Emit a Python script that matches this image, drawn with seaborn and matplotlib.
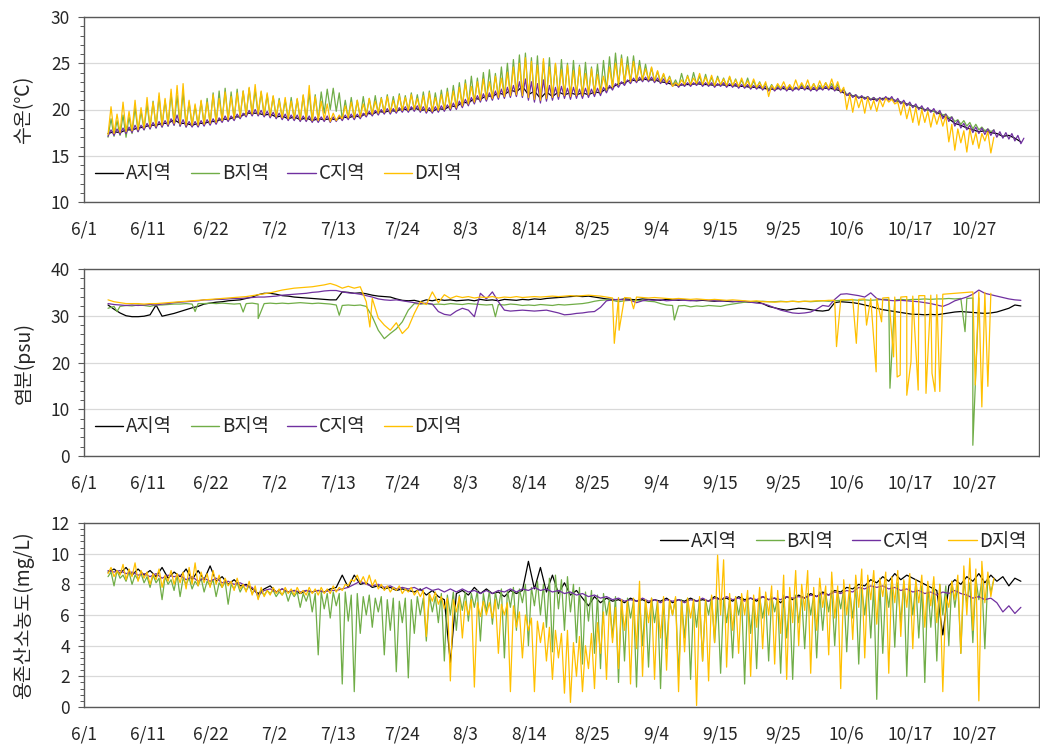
import numpy as np
import pandas as pd
import matplotlib
matplotlib.use("Agg")
import matplotlib.pyplot as plt
from matplotlib.lines import Line2D
from matplotlib.ticker import MultipleLocator
import seaborn as sns

# ---------------------------------------------------------------------------
# Data: day 0 = 6/1. Daily readings start on day 4.
# "lo"/"hi" lists hold the daily low and the daily high of a series.
# ---------------------------------------------------------------------------
REGIONS = ["A지역", "B지역", "C지역", "D지역"]
COLORS = ["#000000", "#70AD47", "#7030A0", "#FFC000"]
START_DAY = 4

TICK_LABELS = ["6/1", "6/11", "6/22", "7/2", "7/13", "7/24", "8/3", "8/14",
               "8/25", "9/4", "9/15", "9/25", "10/6", "10/17", "10/27"]

# --- water temperature (°C) ---
TEMP_A = [17.4, 17.6, 17.5, 17.8, 17.8, 18.0, 18.1, 18.3, 18.3, 18.5,
          18.5, 18.9, 18.5, 18.5, 18.3, 18.5, 18.5, 18.7, 18.7, 19.0,
          18.9, 19.2, 19.2, 19.6, 19.6, 19.6, 19.4, 19.5, 19.2, 19.3,
          19.0, 19.2, 18.9, 19.1, 18.8, 19.0, 18.9, 19.0, 18.9, 19.2,
          19.1, 19.3, 19.2, 19.6, 19.5, 19.8, 19.7, 19.9, 19.8, 20.1,
          19.9, 20.2, 19.9, 20.0, 19.8, 20.1, 20.0, 20.4, 20.3, 20.8,
          20.7, 21.2, 21.1, 21.5, 21.4, 21.8, 21.6, 22.1, 21.9, 22.5,
          21.6, 22.0, 21.2, 21.9, 21.4, 21.9, 21.6, 21.8, 21.6, 21.8,
          21.6, 21.9, 21.8, 22.3, 22.4, 22.8, 22.9, 23.2, 23.1, 23.3,
          23.2, 23.2, 23.0, 22.9, 22.7, 22.6, 22.7, 22.7, 22.8, 22.7,
          22.7, 22.6, 22.7, 22.6, 22.6, 22.5, 22.5, 22.4, 22.4, 22.3,
          22.2, 22.2, 22.3, 22.2, 22.2, 22.3, 22.3, 22.2, 22.2, 22.3,
          22.3, 22.2, 22.0, 21.6, 21.5, 21.3, 21.3, 21.1, 21.1, 21.2,
          21.2, 21.0, 20.8, 20.6, 20.4, 20.2, 20.0, 19.9, 19.7, 19.3,
          19.0, 18.5, 18.3, 18.0, 17.8, 17.6, 17.7, 17.5, 17.4, 17.1,
          17.2, 16.9, 16.5]
TEMP_B_LO = [17.0, 17.1, 17.2, 17.0, 17.4, 17.6, 17.8, 17.9, 18.0, 18.1,
             18.2, 18.3, 18.2, 18.1, 18.2, 18.2, 18.3, 18.4, 18.5, 18.7,
             18.8, 18.9, 19.1, 19.3, 19.4, 19.4, 19.3, 19.2, 19.1, 19.0,
             18.9, 18.9, 18.8, 18.8, 18.7, 18.8, 19.6, 20.0, 19.8, 18.9,
             19.0, 19.0, 19.1, 19.3, 19.4, 19.5, 19.6, 19.6, 19.7, 19.8,
             19.8, 19.9, 19.8, 19.7, 19.7, 19.8, 19.9, 20.0, 20.1, 20.3,
             20.5, 20.7, 20.9, 21.0, 21.1, 21.2, 21.3, 21.4, 21.5, 21.4,
             21.2, 21.0, 20.9, 21.1, 21.2, 21.3, 21.4, 21.3, 21.4, 21.4,
             21.5, 21.6, 21.7, 22.0, 22.3, 22.6, 22.8, 22.9, 23.0, 23.1,
             23.1, 23.0, 22.9, 22.8, 22.6, 22.5, 22.6, 22.6, 22.7, 22.6,
             22.6, 22.5, 22.6, 22.5, 22.5, 22.4, 22.4, 22.3, 22.3, 22.2,
             22.1, 22.1, 22.2, 22.1, 22.1, 22.2, 22.2, 22.1, 22.1, 22.2,
             22.2, 22.1, 21.9, 21.6, 21.4, 21.3, 21.2, 21.1, 21.0, 21.1,
             21.1, 20.9, 20.7, 20.5, 20.3, 20.1, 19.9, 19.8, 19.6, 19.4,
             19.1, 18.7, 18.4, 18.2, 17.9, 17.8, 17.7, 17.6]
TEMP_B_HI = [19.0, 18.8, 19.4, 19.2, 20.2, 19.8, 20.6, 20.9, 21.4, 21.0,
             21.7, 21.5, 21.9, 20.8, 20.4, 20.9, 21.2, 21.8, 22.0, 22.3,
             21.9, 22.2, 22.0, 22.3, 22.1, 21.9, 21.6, 21.4, 21.2, 21.0,
             21.3, 21.1, 21.5, 21.8, 21.6, 21.9, 22.2, 22.3, 21.8, 21.0,
             21.3, 21.0, 21.4, 21.2, 21.5, 21.3, 21.6, 21.4, 21.7, 21.5,
             21.8, 21.6, 21.9, 22.0, 21.8, 22.1, 22.3, 22.6, 22.9, 23.2,
             23.6, 23.4, 24.0, 24.3, 23.9, 24.6, 25.0, 25.4, 25.9, 26.1,
             25.6, 25.8, 25.2, 25.6, 24.9, 25.4, 25.0, 25.3, 24.8, 25.1,
             24.6, 24.9, 25.3, 25.7, 26.1, 25.9, 25.7, 25.8, 25.3, 24.9,
             24.5, 24.1, 23.8, 23.6, 23.2, 23.9, 23.7, 24.0, 23.6, 23.8,
             23.5, 23.6, 23.4, 23.5, 23.3, 23.2, 23.4, 23.1, 23.0, 22.8,
             22.7, 22.6, 22.5, 22.6, 22.4, 22.7, 22.6, 22.8, 22.6, 22.9,
             22.8, 22.7, 22.2, 21.8, 21.6, 21.4, 21.4, 21.3, 21.2, 21.2,
             21.2, 21.0, 20.8, 20.6, 20.4, 20.2, 20.0, 19.8, 19.7, 19.5,
             19.2, 18.9, 18.8, 18.6, 18.4, 18.1, 17.9, 17.8]
TEMP_C_LO = [17.1, 17.2, 17.3, 17.4, 17.5, 17.6, 17.8, 17.9, 18.0, 18.1,
             18.2, 18.3, 18.2, 18.1, 18.1, 18.1, 18.2, 18.3, 18.4, 18.6,
             18.7, 18.8, 19.0, 19.2, 19.3, 19.3, 19.2, 19.1, 19.0, 18.9,
             18.8, 18.8, 18.7, 18.7, 18.6, 18.6, 18.7, 18.6, 18.7, 18.8,
             18.9, 18.9, 19.0, 19.2, 19.3, 19.4, 19.5, 19.5, 19.6, 19.7,
             19.7, 19.8, 19.7, 19.6, 19.6, 19.7, 19.8, 19.9, 20.0, 20.2,
             20.4, 20.6, 20.8, 20.9, 21.0, 21.1, 21.2, 21.3, 21.4, 21.3,
             21.0, 20.8, 20.7, 20.9, 21.0, 21.1, 21.2, 21.1, 21.2, 21.2,
             21.3, 21.4, 21.5, 21.8, 22.1, 22.4, 22.6, 22.8, 22.9, 23.0,
             23.0, 22.9, 22.8, 22.7, 22.5, 22.4, 22.5, 22.5, 22.6, 22.5,
             22.5, 22.4, 22.5, 22.4, 22.4, 22.3, 22.3, 22.2, 22.2, 22.1,
             22.0, 22.0, 22.1, 22.0, 22.0, 22.1, 22.1, 22.0, 22.0, 22.1,
             22.1, 22.0, 21.8, 21.5, 21.3, 21.2, 21.1, 21.0, 20.9, 21.0,
             21.0, 20.8, 20.6, 20.4, 20.2, 20.0, 19.8, 19.7, 19.5, 19.0,
             18.7, 18.2, 18.0, 17.8, 17.5, 17.4, 17.3, 17.2, 17.0, 16.9,
             16.8, 16.6, 16.3]
TEMP_C_HI = [17.8, 17.9, 18.0, 18.1, 18.3, 18.3, 18.5, 18.6, 18.7, 18.8,
             19.0, 19.4, 18.9, 18.7, 18.7, 18.8, 18.9, 19.0, 19.1, 19.3,
             19.3, 19.5, 19.6, 19.9, 20.0, 19.9, 19.8, 19.7, 19.6, 19.5,
             19.4, 19.4, 19.3, 19.3, 19.2, 19.2, 19.3, 19.2, 19.3, 19.4,
             19.5, 19.5, 19.6, 19.8, 19.9, 20.0, 20.1, 20.1, 20.2, 20.3,
             20.3, 20.4, 20.3, 20.2, 20.3, 20.4, 20.5, 20.7, 20.9, 21.1,
             21.3, 21.5, 21.7, 21.8, 22.0, 22.2, 22.4, 22.6, 23.0, 23.3,
             23.0, 22.8, 23.2, 22.6, 22.4, 22.5, 22.3, 22.4, 22.2, 22.3,
             22.2, 22.3, 22.4, 22.6, 22.8, 23.0, 23.2, 23.4, 23.5, 23.5,
             23.5, 23.4, 23.3, 23.1, 22.9, 22.8, 22.9, 22.9, 23.0, 22.9,
             22.9, 22.8, 22.9, 22.8, 22.8, 22.7, 22.7, 22.6, 22.6, 22.5,
             22.4, 22.4, 22.5, 22.4, 22.4, 22.5, 22.5, 22.4, 22.4, 22.5,
             22.5, 22.4, 22.1, 21.8, 21.6, 21.5, 21.4, 21.3, 21.3, 21.4,
             21.4, 21.2, 21.0, 20.8, 20.6, 20.4, 20.2, 20.1, 19.9, 19.5,
             19.2, 18.8, 18.5, 18.3, 18.1, 18.0, 17.9, 17.8, 17.6, 17.5,
             17.4, 17.2, 16.9]
TEMP_D_LO = [17.3, 17.4, 17.5, 17.6, 17.7, 17.8, 18.0, 18.1, 18.2, 18.3,
             18.4, 18.5, 18.4, 18.3, 18.3, 18.3, 18.4, 18.5, 18.6, 18.8,
             18.9, 19.0, 19.2, 19.4, 19.5, 19.5, 19.4, 19.3, 19.2, 19.1,
             19.0, 19.0, 18.9, 18.9, 18.8, 18.8, 18.9, 18.7, 18.8, 19.0,
             19.1, 19.1, 19.2, 19.4, 19.5, 19.6, 19.7, 19.7, 19.8, 19.9,
             19.9, 20.0, 19.9, 19.8, 19.8, 19.9, 20.0, 20.1, 20.2, 20.4,
             20.6, 20.8, 21.0, 21.1, 21.2, 21.3, 21.4, 21.5, 21.6, 21.5,
             21.3, 21.1, 21.0, 21.2, 21.3, 21.4, 21.5, 21.4, 21.5, 21.5,
             21.6, 21.7, 21.8, 22.1, 22.4, 22.7, 22.9, 23.0, 23.1, 23.2,
             23.2, 23.1, 23.0, 22.9, 22.5, 22.6, 22.7, 22.7, 22.8, 22.7,
             22.7, 22.6, 22.7, 22.6, 22.6, 22.5, 22.5, 22.4, 22.4, 22.3,
             21.4, 22.2, 22.3, 22.2, 22.2, 22.3, 22.3, 22.2, 22.2, 22.3,
             22.3, 22.2, 21.9, 20.0, 19.7, 20.2, 19.6, 20.0, 19.8, 20.3,
             20.8, 20.6, 19.4, 19.0, 18.6, 18.3, 18.6, 18.1, 18.4, 18.2,
             16.5, 15.6, 16.4, 15.4, 16.2, 15.8, 16.6, 15.3]
TEMP_D_HI = [20.3, 19.5, 20.8, 19.8, 21.0, 20.2, 21.3, 20.8, 21.8, 21.2,
             22.2, 22.6, 22.8, 21.0, 20.6, 21.0, 20.8, 21.6, 21.2, 21.9,
             21.4, 21.8, 22.0, 22.4, 22.7, 22.0, 21.8, 21.5, 21.0, 21.3,
             20.9, 21.2, 21.6, 22.6, 21.4, 20.9, 20.6, 19.6, 19.4, 20.4,
             20.8, 21.0, 20.6, 21.2, 20.9, 21.2, 21.4, 21.0, 21.5, 21.3,
             21.6, 21.2, 21.5, 21.8, 21.3, 21.6, 21.9, 22.0, 22.4, 22.8,
             22.5, 23.0, 23.3, 23.0, 23.6, 23.4, 24.0, 24.6, 25.0, 25.6,
             25.2, 24.8, 25.5, 24.6, 25.0, 24.3, 24.8, 24.2, 24.6, 23.9,
             24.4, 23.8, 23.6, 24.6, 25.0, 25.5, 24.8, 25.2, 24.7, 24.4,
             24.6, 24.2, 23.9, 23.5, 22.9, 23.2, 23.6, 23.4, 23.9, 23.5,
             23.7, 23.4, 23.3, 23.6, 23.2, 23.4, 23.1, 23.3, 22.9, 23.0,
             22.6, 22.8, 23.0, 22.7, 23.2, 22.9, 23.2, 22.8, 23.1, 22.9,
             23.3, 23.0, 22.4, 21.6, 21.4, 21.2, 21.3, 21.0, 21.1, 21.2,
             21.1, 20.8, 20.7, 20.3, 20.2, 20.0, 19.8, 19.6, 19.5, 19.3,
             18.4, 17.9, 17.7, 17.9, 17.5, 17.4, 17.6, 17.0]

# --- salinity (psu) ---
SAL_A = [32.3, 31.4, 30.6, 30.0, 29.8, 29.8, 29.9, 30.2, 32.3, 29.9,
         30.2, 30.5, 30.9, 31.3, 31.7, 32.0, 32.5, 32.7, 32.9, 33.0,
         33.2, 33.3, 33.4, 33.7, 34.0, 34.5, 34.8, 34.8, 34.6, 34.3,
         34.2, 34.0, 33.9, 33.8, 33.7, 33.6, 33.5, 33.4, 33.4, 35.1,
         35.0, 34.8, 34.9, 34.7, 34.4, 34.2, 34.1, 34.0, 33.6, 33.3,
         33.2, 33.3, 33.0, 33.4, 33.2, 33.5, 33.3, 33.4, 33.2, 33.3,
         33.4, 33.2, 33.5, 33.3, 33.4, 33.2, 33.5, 33.4, 33.3, 33.5,
         33.4, 33.6, 33.5, 33.7, 33.8, 33.9, 34.0, 34.1, 34.2, 34.1,
         34.2, 34.0, 33.8, 33.6, 33.5, 33.4, 33.6, 33.5, 33.4, 33.6,
         33.5, 33.4, 33.3, 33.5, 33.4, 33.3, 33.4, 33.3, 33.2, 33.3,
         33.2, 33.1, 33.2, 33.1, 33.0, 33.1, 33.0, 32.9, 33.0, 32.6,
         32.0, 31.7, 31.4, 31.2, 31.4, 31.6, 31.5, 31.3, 31.1, 31.0,
         31.2, 32.8, 33.0, 32.9, 32.8, 32.6, 32.3, 32.0, 31.6, 31.3,
         31.1, 30.9, 30.7, 30.5, 30.3, 30.3, 30.2, 30.3, 30.2, 30.4,
         30.6, 30.8, 30.9, 30.8, 30.7, 30.6, 30.5, 30.6, 30.8, 31.2,
         31.6, 32.3, 32.1]
SAL_B = [31.6, 32.0, 32.0, 32.2, 32.1, 32.3, 32.2, 32.0, 32.3, 32.3,
         32.4, 32.5, 32.5, 32.6, 32.5, 32.6, 32.6, 32.7, 32.6, 32.7,
         32.6, 32.5, 32.6, 32.6, 32.7, 32.5, 32.6, 32.7, 32.6, 32.7,
         32.6, 32.7, 32.8, 32.7, 32.6, 32.7, 32.6, 32.5, 32.3, 32.2,
         32.3, 32.2, 32.3, 32.0, 29.8, 26.9, 25.1, 26.2, 27.2, 28.7,
         31.2, 32.6, 32.5, 32.6, 32.4, 32.5, 32.4, 32.6, 32.5, 32.4,
         32.6, 32.5, 32.4, 32.3, 32.4, 32.4, 32.3, 32.5, 32.4, 32.2,
         32.3, 32.2, 32.4, 32.3, 32.2, 32.4, 32.3, 32.4, 32.5, 32.6,
         32.8, 33.1, 33.3, 33.4, 33.3, 33.0, 33.2, 33.3, 33.2, 33.3,
         33.1, 33.0, 32.6, 32.3, 32.2, 32.1, 32.2, 31.9, 32.1, 32.0,
         32.2, 32.1, 32.0, 32.3, 32.5, 32.7, 32.9, 33.0, 33.0, 33.1,
         33.0, 33.0, 33.1, 33.0, 33.1, 33.0, 33.1, 33.0, 33.1, 33.2,
         33.1, 33.2, 33.3, 33.3, 33.4, 33.3, 33.4, 33.3, 33.4, 33.5,
         33.5, 33.4, 33.5, 33.4, 33.5, 33.5, 33.6, 33.5, 33.6, 33.6,
         33.7, 33.6, 33.7, 33.7, 33.8, 33.8]
SAL_B_DIP_DAY = [5.5, 18.5, 26.5, 29.0, 42.5, 68.5, 98.3, 134.2, 146.7, 148.0]
SAL_B_DIP_VAL = [30.9, 30.9, 30.8, 29.4, 30.1, 29.8, 29.1, 14.5, 26.6, 2.3]
SAL_C = [32.6, 32.4, 32.3, 32.2, 32.3, 32.2, 32.3, 32.4, 32.3, 32.5,
         32.6, 32.8, 32.9, 33.0, 33.1, 33.2, 33.4, 33.4, 33.5, 33.5,
         33.6, 33.7, 33.7, 33.8, 33.9, 34.0, 34.0, 34.1, 34.2, 34.4,
         34.5, 34.6, 34.7, 34.8, 35.0, 35.1, 35.3, 35.4, 35.4, 35.1,
         34.9, 34.8, 34.6, 34.3, 34.0, 33.6, 33.4, 33.3, 33.4, 33.2,
         33.0, 32.8, 32.6, 32.7, 32.5, 30.9, 30.3, 30.1, 31.0, 31.6,
         31.2, 29.8, 34.8, 33.6, 35.1, 33.0, 31.2, 31.0, 31.1, 31.2,
         31.1, 31.0, 31.1, 31.2, 30.9, 30.6, 30.2, 30.3, 30.5, 30.6,
         30.8, 30.9, 31.8, 33.2, 33.4, 33.5, 33.4, 33.3, 32.8, 33.2,
         33.4, 33.3, 33.4, 33.2, 33.3, 33.4, 33.3, 33.2, 33.3, 33.4,
         33.3, 33.2, 33.1, 33.2, 33.1, 33.0, 33.1, 32.9, 32.7, 32.6,
         32.2, 31.7, 31.2, 30.9, 30.6, 30.5, 30.6, 30.8, 31.4, 32.2,
         32.0, 33.5, 34.6, 34.7, 34.5, 34.3, 34.0, 34.9, 33.7, 33.4,
         33.3, 33.2, 33.3, 33.2, 33.1, 33.0, 32.8, 32.6, 32.3, 32.0,
         32.5, 33.2, 33.6, 34.0, 34.6, 35.5, 34.8, 34.5, 34.2, 33.9,
         33.6, 33.4, 33.3]
SAL_D = [33.4, 33.0, 32.8, 32.6, 32.6, 32.6, 32.5, 32.6, 32.6, 32.7,
         32.8, 32.9, 33.0, 33.1, 33.2, 33.3, 33.4, 33.5, 33.6, 33.7,
         33.8, 33.9, 34.0, 34.1, 34.3, 34.5, 34.7, 34.9, 35.2, 35.5,
         35.7, 35.9, 36.0, 36.1, 36.2, 36.4, 36.6, 36.9, 36.5, 35.9,
         36.3, 35.9, 36.2, 33.0, 33.7, 29.5, 28.0, 26.9, 28.5, 26.2,
         27.5, 30.5, 33.0, 32.4, 35.1, 32.8, 34.5, 33.7, 34.2, 33.9,
         34.1, 33.8, 34.0, 33.9, 34.1, 33.8, 34.0, 33.9, 34.1, 33.9,
         34.0, 34.1, 34.0, 34.1, 34.2, 34.1, 34.2, 34.3, 34.2, 34.3,
         34.4, 34.3, 34.2, 34.0, 33.8, 33.9, 33.9, 33.8, 34.0, 33.9,
         33.8, 33.9, 33.8, 33.7, 33.6, 33.7, 33.6, 33.5, 33.6, 33.5,
         33.4, 33.5, 33.4, 33.3, 33.4, 33.3, 33.2, 33.1, 33.2, 33.0,
         33.0, 32.9, 33.0, 33.0, 33.1, 33.0, 33.1, 33.1, 33.2, 33.2,
         33.3, 33.3, 33.4, 33.4, 33.5, 33.5, 33.6, 33.7, 33.7, 33.8,
         33.9, 34.0, 34.0, 34.1, 34.2, 34.3, 34.3, 34.4, 34.5, 34.6,
         34.7, 34.8, 34.9, 35.0, 35.1, 35.1, 35.0, 34.8]
SAL_D_DIP_DAY = [47.6, 88.3, 89.1, 91.5, 125.3, 128.6, 130.3, 131.9, 132.8,
                 134.8, 135.4, 135.9, 137.0, 137.7, 138.9, 140.2, 141.2,
                 141.7, 142.5, 148.4, 149.5, 150.5]
SAL_D_DIP_VAL = [27.6, 24.1, 26.9, 31.5, 23.4, 24.1, 28.0, 18.0, 28.7,
                 21.2, 16.9, 17.3, 13.0, 20.2, 14.1, 13.4, 17.7,
                 13.8, 13.8, 15.2, 10.5, 14.9]

# --- dissolved oxygen (mg/L) ---
DO_A = [8.8, 9.0, 8.7, 9.1, 8.6, 9.0, 8.6, 8.9, 8.5, 9.1,
        8.4, 8.8, 8.5, 9.0, 8.3, 8.9, 8.3, 9.2, 8.2, 8.5,
        8.0, 8.3, 7.9, 8.0, 7.7, 7.4, 7.7, 7.9, 7.5, 7.7,
        7.5, 7.6, 7.4, 7.6, 7.5, 7.6, 7.5, 7.7, 7.8, 8.6,
        7.8, 8.6, 8.0, 8.1, 7.8, 7.9, 7.7, 7.8, 7.6, 7.7,
        7.6, 7.5, 7.7, 7.3, 7.6, 7.2, 7.0, 2.9, 7.4, 7.6,
        7.3, 7.8, 7.4, 7.7, 7.4, 7.5, 7.2, 7.6, 7.4, 7.6,
        9.5, 7.7, 9.1, 7.5, 8.6, 7.4, 8.1, 7.3, 7.6, 7.1,
        6.6, 7.2, 6.8, 7.1, 6.9, 7.0, 6.8, 7.1, 6.9, 7.0,
        6.8, 7.0, 6.9, 7.1, 6.8, 7.0, 6.9, 7.1, 6.9, 7.0,
        6.9, 7.2, 7.0, 7.1, 6.9, 7.2, 7.0, 7.1, 6.9, 7.2,
        7.0, 7.1, 6.8, 7.2, 7.0, 7.3, 7.1, 7.4, 7.2, 7.5,
        7.3, 7.6, 7.5, 7.8, 7.7, 8.0, 7.9, 8.3, 8.1, 8.5,
        8.2, 8.7, 8.3, 8.6, 8.4, 8.2, 8.0, 7.8, 7.6, 4.7,
        7.9, 8.3, 8.0, 8.5, 8.2, 8.7, 8.1, 8.6, 8.2, 8.5,
        7.9, 8.4, 8.2]
DO_B_LO = [8.5, 7.9, 8.4, 8.2, 8.0, 8.3, 8.1, 7.8, 8.1, 7.0,
           8.0, 7.6, 7.2, 8.0, 7.7, 7.9, 7.5, 7.9, 7.2, 7.8,
           6.7, 7.7, 7.5, 7.6, 7.4, 7.1, 7.3, 7.4, 7.2, 7.3,
           6.9, 7.2, 6.5, 6.9, 6.2, 3.4, 6.4, 5.8, 6.6, 1.5,
           5.6, 1.0, 4.8, 6.0, 5.2, 6.2, 3.4, 5.0, 2.3, 5.5,
           1.9, 4.8, 6.0, 4.3, 6.2, 5.5, 3.0, 6.0, 5.0, 6.3,
           5.6, 6.5, 4.3, 6.2, 5.4, 6.4, 3.2, 6.5, 5.0, 6.8,
           4.0, 6.6, 6.0, 5.2, 3.6, 6.4, 5.0, 6.2, 4.2, 2.8,
           5.6, 3.5, 2.5, 6.0, 4.5, 1.6, 3.0, 5.8, 1.3, 4.0,
           2.6, 5.5, 1.2, 3.8, 6.0, 2.0, 4.5, 1.8, 5.2, 3.0,
           6.0, 4.2, 2.2, 5.5, 3.2, 6.0, 1.5, 4.8, 2.5, 5.8,
           3.0, 6.2, 2.2, 4.5, 1.8, 5.5, 3.8, 6.0, 3.2, 5.0,
           6.2, 4.0, 6.4, 3.6, 5.8, 2.8, 6.0, 4.5, 0.5, 3.5,
           6.5, 3.9, 5.5, 2.0, 6.0, 4.5, 1.6, 5.2, 3.0, 6.0,
           4.0, 6.5, 3.5, 6.8, 4.2, 7.0, 3.8, 7.5]
DO_B_HI = [8.8, 8.9, 8.6, 8.8, 8.6, 8.7, 8.5, 8.6, 8.4, 8.5,
           8.3, 8.6, 8.4, 8.4, 8.2, 8.4, 8.2, 8.3, 8.1, 8.2,
           8.0, 8.1, 7.9, 7.9, 7.7, 7.5, 7.6, 7.6, 7.5, 7.6,
           7.5, 7.5, 7.4, 7.5, 7.4, 7.5, 7.4, 7.5, 7.4, 7.5,
           7.3, 7.4, 7.2, 7.3, 7.1, 7.2, 7.0, 7.1, 6.9, 7.1,
           7.0, 7.2, 7.1, 7.3, 7.2, 7.4, 7.3, 7.5, 7.3, 7.5,
           7.4, 7.6, 7.4, 7.6, 7.5, 7.7, 7.6, 7.8, 7.7, 8.0,
           7.8, 8.2, 8.0, 8.4, 8.6, 8.3, 8.5, 8.0, 7.8, 7.5,
           7.6, 7.3, 7.4, 7.1, 7.2, 7.0, 7.1, 6.9, 7.0, 6.9,
           7.1, 6.9, 7.0, 6.9, 7.1, 7.0, 7.1, 6.9, 7.1, 7.0,
           7.2, 7.0, 7.1, 7.0, 7.2, 7.1, 7.2, 7.0, 7.2, 7.1,
           7.2, 7.1, 7.3, 7.1, 7.3, 7.2, 7.4, 7.3, 7.5, 7.4,
           7.6, 7.5, 7.7, 7.6, 7.9, 7.8, 8.1, 7.9, 8.2, 8.0,
           8.3, 8.1, 8.2, 8.0, 8.1, 7.9, 8.0, 7.8, 8.0, 7.9,
           8.2, 8.0, 8.3, 8.1, 8.4, 8.2, 8.5, 8.3]
DO_C = [8.9, 8.8, 8.9, 8.7, 8.8, 8.6, 8.7, 8.5, 8.7, 8.4,
        8.6, 8.5, 8.6, 8.3, 8.5, 8.2, 8.4, 8.2, 8.4, 8.1,
        8.2, 8.0, 8.1, 7.9, 7.8, 7.3, 7.6, 7.7, 7.5, 7.7,
        7.5, 7.6, 7.5, 7.6, 7.5, 7.6, 7.5, 7.6, 7.6, 7.7,
        7.8, 8.0, 8.2, 8.0, 7.9, 8.0, 7.8, 7.9, 7.7, 7.8,
        7.7, 7.8, 7.6, 7.8, 7.6, 7.7, 7.5, 7.7, 7.5, 7.7,
        7.5, 7.6, 7.4, 7.6, 7.4, 7.6, 7.5, 7.7, 7.5, 7.7,
        7.6, 7.8, 7.6, 7.7, 7.5, 7.6, 7.4, 7.5, 7.3, 7.4,
        7.2, 7.3, 7.1, 7.2, 7.0, 7.1, 6.9, 7.0, 6.9, 7.1,
        6.9, 7.0, 6.8, 7.0, 6.9, 7.0, 6.8, 7.0, 6.9, 7.1,
        6.9, 7.1, 7.0, 7.2, 7.0, 7.1, 6.9, 7.1, 7.0, 7.2,
        7.0, 7.1, 7.0, 7.2, 7.1, 7.2, 7.1, 7.3, 7.2, 7.4,
        7.3, 7.5, 7.4, 7.6, 7.5, 7.8, 7.7, 7.9, 7.8, 7.9,
        7.7, 7.8, 7.6, 7.7, 7.5, 7.6, 7.4, 7.5, 7.3, 7.5,
        7.4, 7.6, 7.4, 7.3, 7.1, 7.2, 7.0, 7.1, 6.8, 6.2,
        6.6, 6.1, 6.5]
DO_D_LO = [8.7, 8.5, 8.6, 8.3, 8.5, 8.2, 8.4, 8.0, 8.3, 7.8,
           8.2, 8.0, 8.1, 7.7, 8.0, 7.9, 8.1, 7.8, 8.0, 7.8,
           7.9, 7.6, 7.7, 7.5, 7.3, 7.0, 7.2, 7.3, 7.4, 7.3,
           7.4, 7.3, 7.4, 7.3, 7.4, 7.3, 7.4, 7.4, 7.5, 7.6,
           7.9, 8.2, 8.1, 8.0, 7.9, 7.7, 7.6, 7.5, 7.6, 7.4,
           7.5, 7.3, 7.2, 4.6, 6.9, 6.7, 6.4, 1.7, 6.2, 4.5,
           6.0, 1.3, 5.9, 6.0, 5.8, 3.5, 6.0, 1.0, 5.2, 3.2,
           5.0, 1.0, 4.2, 3.0, 1.8, 3.2, 0.9, 0.3, 2.0, 1.0,
           2.5, 1.2, 3.5, 1.8, 4.2, 2.5, 5.0, 1.5, 3.8, 2.0,
           5.5, 1.8, 4.5, 2.4, 6.0, 1.0, 3.6, 5.8, 0.1, 3.0,
           1.7, 4.2, 6.0, 2.6, 5.0, 3.5, 6.0, 2.0, 5.2, 3.8,
           6.0, 2.8, 4.8, 1.8, 5.5, 4.0, 6.3, 2.2, 5.0, 6.5,
           3.4, 5.8, 1.2, 6.0, 4.4, 6.5, 3.2, 7.0, 5.4, 7.2,
           2.2, 6.8, 4.6, 6.5, 3.8, 6.8, 5.2, 6.6, 5.5, 1.0,
           6.5, 7.0, 3.5, 6.0, 5.0, 0.4, 6.8, 7.2]
DO_D_HI = [9.1, 8.9, 9.3, 9.0, 9.4, 8.9, 8.8, 8.7, 9.0, 8.6,
           8.9, 8.7, 8.8, 9.1, 9.4, 8.8, 8.7, 8.9, 8.6, 8.4,
           8.2, 8.4, 8.0, 8.2, 7.9, 7.8, 7.6, 7.8, 7.7, 7.8,
           7.7, 7.8, 7.6, 7.8, 7.7, 7.8, 7.7, 7.9, 7.8, 8.0,
           8.3, 8.6, 8.5, 8.6, 8.3, 8.0, 7.9, 7.8, 7.9, 7.7,
           7.8, 7.6, 7.6, 7.4, 7.5, 7.2, 7.1, 7.0, 7.2, 6.9,
           7.0, 6.8, 6.9, 6.8, 7.0, 6.7, 6.8, 6.6, 6.2, 6.0,
           5.8, 5.6, 5.5, 5.2, 5.0, 4.8, 5.0, 4.2, 4.6, 4.0,
           4.8, 5.5, 6.2, 6.8, 6.5, 7.0, 6.9, 7.1, 8.2, 7.0,
           7.1, 6.9, 7.2, 7.0, 7.2, 6.9, 7.1, 7.0, 7.2, 7.0,
           7.3, 9.9, 9.6, 7.4, 7.2, 7.4, 7.6, 7.3, 7.8, 7.5,
           7.9, 7.6, 8.6, 7.8, 8.9, 8.0, 8.9, 7.8, 8.4, 7.9,
           8.8, 7.9, 8.3, 8.0, 8.6, 9.0, 8.6, 8.9, 8.4, 8.8,
           8.5, 8.9, 8.3, 8.7, 8.3, 8.6, 8.2, 8.5, 8.0, 7.2,
           8.2, 8.6, 9.2, 9.7, 9.0, 9.5, 8.8, 8.4]


# ---------------------------------------------------------------------------
# Helpers that turn the lists into (day, value) sequences
# ---------------------------------------------------------------------------
def daily(vals):
    vals = np.asarray(vals, float)
    return START_DAY + np.arange(len(vals)), vals


def low_high(lo, hi):
    lo = np.asarray(lo, float)
    hi = np.asarray(hi, float)
    days = START_DAY + np.arange(len(lo))
    x = np.empty(2 * len(lo))
    y = np.empty(2 * len(lo))
    x[0::2], x[1::2] = days, days + 0.5
    y[0::2], y[1::2] = lo, hi
    return x, y


def with_dips(vals, dip_days, dip_vals):
    x0, y0 = daily(vals)
    x = np.concatenate([x0, np.asarray(dip_days, float)])
    y = np.concatenate([y0, np.asarray(dip_vals, float)])
    order = np.argsort(x, kind="stable")
    return x[order], y[order]


def long_frame(series):
    parts = []
    for region, (x, y) in zip(REGIONS, series):
        parts.append(pd.DataFrame({"day": x, "value": y, "region": region}))
    return pd.concat(parts, ignore_index=True)


temp_df = long_frame([daily(TEMP_A), low_high(TEMP_B_LO, TEMP_B_HI),
                      low_high(TEMP_C_LO, TEMP_C_HI),
                      low_high(TEMP_D_LO, TEMP_D_HI)])
sal_df = long_frame([daily(SAL_A),
                     with_dips(SAL_B, SAL_B_DIP_DAY, SAL_B_DIP_VAL),
                     daily(SAL_C),
                     with_dips(SAL_D, SAL_D_DIP_DAY, SAL_D_DIP_VAL)])
do_df = long_frame([daily(DO_A), low_high(DO_B_LO, DO_B_HI), daily(DO_C),
                    low_high(DO_D_LO, DO_D_HI)])

# ---------------------------------------------------------------------------
# Figure
# ---------------------------------------------------------------------------
sns.set_theme(style="white")
plt.rcParams["font.family"] = ["Noto Sans CJK KR", "DejaVu Sans"]
plt.rcParams["axes.unicode_minus"] = False

W, H = 1040, 750
fig = plt.figure(figsize=(W / 100, H / 100), dpi=100)

LEFT, RIGHT = 84, 1039
PX_PER_DAY = 63.56 / (254 / 24)
XMAX = (RIGHT - LEFT) / PX_PER_DAY
TICK_POS = [k * 254 / 24 for k in range(len(TICK_LABELS))]
SPINE = "#595959"


def panel(top, bottom):
    return fig.add_axes([LEFT / W, 1 - bottom / H, (RIGHT - LEFT) / W,
                         (bottom - top) / H])


panels = [
    (panel(17, 202), temp_df, (10, 30), 5, 1, "수온(℃)",
     dict(loc="lower left", bbox_to_anchor=(0.004, 0.055))),
    (panel(269, 456), sal_df, (0, 40), 10, 2, "염분(psu)",
     dict(loc="lower left", bbox_to_anchor=(0.004, 0.06))),
    (panel(523, 707), do_df, (0, 12), 2, 0.4, "용존산소농도(mg/L)",
     dict(loc="upper right", bbox_to_anchor=(0.995, 1.0))),
]

for ax, df, ylim, major, minor, ylabel, leg_kw in panels:
    sns.lineplot(data=df, x="day", y="value", hue="region",
                 hue_order=REGIONS, palette=COLORS, estimator=None,
                 sort=False, linewidth=0.9, legend=False, ax=ax)
    ax.set_xlim(0, XMAX)
    ax.set_ylim(*ylim)
    ax.yaxis.set_major_locator(MultipleLocator(major))
    ax.yaxis.set_minor_locator(MultipleLocator(minor))
    ax.set_xticks(TICK_POS)
    ax.set_xticklabels(TICK_LABELS)
    ax.set_xlabel("")
    ax.set_ylabel(ylabel, fontsize=14, color="#262626")
    ax.yaxis.set_label_coords(-0.052, 0.5)
    ax.grid(False)
    ax.yaxis.grid(True, which="major", color="#D9D9D9", linewidth=0.9)
    ax.set_axisbelow(True)
    for s in ax.spines.values():
        s.set_visible(True)
        s.set_color(SPINE)
        s.set_linewidth(1.0)
    ax.tick_params(axis="x", length=0, pad=13, labelsize=12.5,
                   labelcolor="#262626")
    ax.tick_params(axis="y", which="major", direction="out", length=4,
                   width=0.8, color=SPINE, pad=6, labelsize=12.5,
                   labelcolor="#262626", left=True)
    ax.tick_params(axis="y", which="minor", direction="out", length=3,
                   width=0.7, color=SPINE, left=True)

    handles = [Line2D([], [], color=c, lw=1.0) for c in COLORS]
    ax.legend(handles, REGIONS, ncol=4, frameon=False, fontsize=13.5,
              handlelength=1.5, handletextpad=0.15, columnspacing=1.0,
              borderaxespad=0.0, labelcolor="#262626", **leg_kw)

fig.savefig("out.png", dpi=100)
